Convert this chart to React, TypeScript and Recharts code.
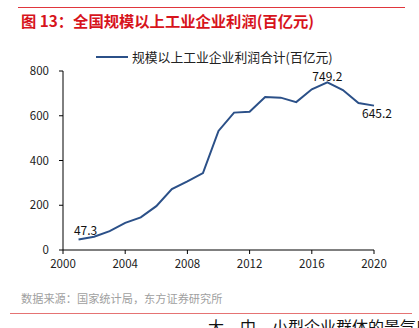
import React from "react";
import { LineChart, Line, XAxis, YAxis, Legend, LabelList } from "recharts";

const years = [2001, 2002, 2003, 2004, 2005, 2006, 2007, 2008, 2009, 2010, 2011, 2012, 2013, 2014, 2015, 2016, 2017, 2018, 2019, 2020];
const profits = [47.3, 59, 84, 121, 146, 196, 272, 307, 344, 532, 614, 618, 684, 681, 661, 718, 749.2, 715, 657, 645.2];
const xTicks = [2000, 2004, 2008, 2012, 2016, 2020];
const yTicks = [0, 200, 400, 600, 800];
const labelled = [2001, 2017, 2020];

const seriesName = "规模以上工业企业利润合计(百亿元)";
const font = "'Noto Sans CJK SC', 'Noto Sans', sans-serif";
const lineColor = "#2b5088";

const data = years.map((y, i) => ({ year: y, v: profits[i] }));

function PointLabel(props: any) {
  const { x, y, value, index } = props;
  const yr = years[index];
  if (!labelled.includes(yr)) return null;
  let dx = 0;
  let dy = -1;
  if (yr === 2001) { dx = 7; dy = -4; }
  if (yr === 2020) { dx = 3; dy = 12; }
  return (
    <text x={x + dx} y={y + dy} textAnchor="middle" fontSize={12} fontFamily={font} fill="#111">
      {value}
    </text>
  );
}

function LegendBox() {
  return (
    <div style={{ display: "flex", alignItems: "center", fontFamily: font, fontSize: 12.8, lineHeight: "16px", color: "#222" }}>
      <span style={{ display: "inline-block", width: 32, height: 2, background: lineColor, marginRight: 4 }} />
      <span>{seriesName}</span>
    </div>
  );
}

export default function App() {
  return (
    <div style={{ position: "absolute", left: 0, top: 0, width: 419, height: 328, background: "#fff", overflow: "hidden", fontFamily: font }}>
      <div style={{ position: "absolute", left: 18, top: 7, width: 387, height: 1, background: "#e0363d" }} />
      <div style={{ position: "absolute", left: 21, top: 9, fontSize: 15.3, fontWeight: 700, color: "#d7141c", whiteSpace: "nowrap" }}>
        图 13：全国规模以上工业企业利润(百亿元)
      </div>
      <div style={{ position: "absolute", left: 0, top: 0 }}>
        <LineChart width={419} height={300} data={data} margin={{ top: 55, right: 45, bottom: 20, left: 0 }}>
          <XAxis
            dataKey="year"
            type="number"
            domain={[2000, 2020]}
            ticks={xTicks}
            interval={0}
            axisLine={{ stroke: "#000" }}
            tickLine={{ stroke: "#000" }}
            tickSize={4}
            height={30}
            tick={{ fontSize: 11.5, fill: "#222", fontFamily: font }}
            tickMargin={6}
          />
          <YAxis
            type="number"
            domain={[0, 800]}
            ticks={yTicks}
            interval={0}
            width={63}
            axisLine={{ stroke: "#000" }}
            tickLine={{ stroke: "#000" }}
            tickSize={4}
            tickMargin={10}
            tick={{ fontSize: 11.5, fill: "#222", fontFamily: font }}
          />
          <Legend verticalAlign="top" align="left" content={<LegendBox />} wrapperStyle={{ top: 49, left: 96 }} />
          <Line
            type="linear"
            dataKey="v"
            name={seriesName}
            stroke={lineColor}
            strokeWidth={2}
            dot={false}
            isAnimationActive={false}
          >
            <LabelList dataKey="v" content={<PointLabel />} />
          </Line>
        </LineChart>
      </div>
      <div style={{ position: "absolute", left: 21, top: 290, fontSize: 11.2, color: "#a0a0a0", whiteSpace: "nowrap" }}>
        数据来源：国家统计局，东方证券研究所
      </div>
      <div style={{ position: "absolute", left: 10, top: 313, width: 402, height: 1, background: "#e57373" }} />
      <div style={{ position: "absolute", left: 208, top: 314, fontSize: 16, color: "#111", whiteSpace: "nowrap" }}>
        大、中、小型企业群体的景气度有
      </div>
    </div>
  );
}
